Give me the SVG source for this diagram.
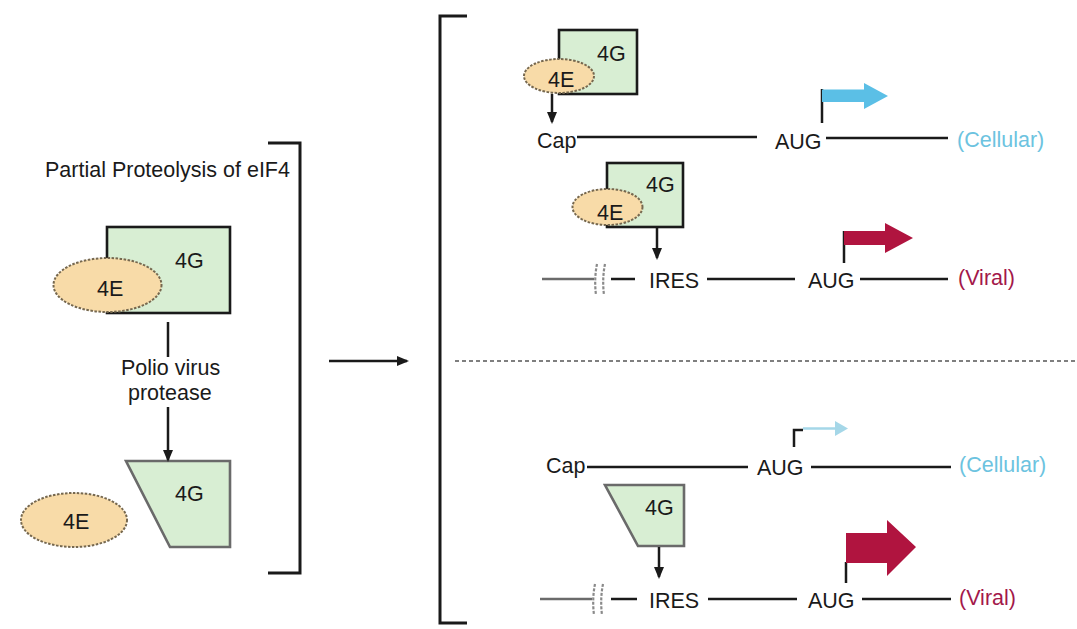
<svg xmlns="http://www.w3.org/2000/svg" width="1077" height="629" viewBox="0 0 1077 629">
<style>
text{font-family:"Liberation Sans",Arial,Helvetica,sans-serif;font-size:21.5px;fill:#1a1a1a}
.g4{fill:#d8eed3;stroke:#1a1a1a;stroke-width:2.6}
.g4c{fill:#d8eed3;stroke:#6a6a6a;stroke-width:2.6}
.e4{fill:#f8dba8;stroke:#76684f;stroke-width:2;stroke-dasharray:2.5 1.5}
.ln{stroke:#1a1a1a;stroke-width:2.5;fill:none}
.gl{stroke:#6b6b6b;stroke-width:2.5;fill:none}
.brk{stroke:#8a8a8a;stroke-width:2.2;fill:none;stroke-dasharray:3 1.5}
.br{stroke:#1a1a1a;stroke-width:3;fill:none}
.cy{fill:#5bbfe6}
.rd{fill:#b0143f}
.cell{fill:#6cc3e0}
.vir{fill:#a3184a}
</style>
<defs>
<marker id="ah" markerUnits="userSpaceOnUse" markerWidth="12" markerHeight="16" refX="10" refY="5" orient="auto">
<path d="M0,0 L12,5 L0,10 Z" fill="#1a1a1a"/>
</marker>
</defs>

<g id="brackets">
<path class="br" d="M268,143 H300 V573 H268"/>
<path class="br" d="M467,16 H440 V623 H467"/>
</g>

<g id="title"><text x="45" y="177">Partial Proteolysis of eIF4</text></g>

<g id="complex-intact">
<rect class="g4" x="107" y="227" width="123" height="86"/>
<ellipse class="e4" cx="107.5" cy="285" rx="54" ry="27"/>
<text x="175" y="268">4G</text>
<text x="97" y="296">4E</text>
</g>

<g id="protease-label">
<text x="121" y="375">Polio virus</text>
<text x="128" y="400">protease</text>
</g>

<g id="cleaved-4G">
<path class="g4c" d="M126,461 H230 V547 H170 Z"/>
<text x="175" y="501">4G</text>
</g>
<g id="free-4E">
<ellipse class="e4" cx="74" cy="520" rx="53" ry="27"/>
<text x="63" y="529">4E</text>
</g>

<g id="complex-top1">
<rect class="g4" x="559" y="30" width="78" height="64"/>
<ellipse class="e4" cx="559" cy="76" rx="35" ry="17"/>
<text x="597" y="61">4G</text>
<text x="548" y="87">4E</text>
</g>

<g id="complex-top2">
<rect class="g4" x="607" y="163" width="76" height="64"/>
<ellipse class="e4" cx="607.5" cy="207" rx="35" ry="18"/>
<text x="646" y="192">4G</text>
<text x="597" y="220">4E</text>
</g>

<g id="cleaved-4G-right">
<path class="g4c" d="M605,485 H684 V546 H638 Z"/>
<text x="645" y="515">4G</text>
</g>

<g id="mrna-cellular-top">
<text x="537" y="148">Cap</text>
<text x="775" y="149">AUG</text>
<text class="cell" x="957" y="147">(Cellular)</text>
</g>
<g id="mrna-viral-top">
<text x="649" y="288">IRES</text>
<text x="808" y="288">AUG</text>
<text class="vir" x="958" y="285">(Viral)</text>
</g>
<g id="mrna-cellular-bottom">
<text x="546" y="473">Cap</text>
<text x="757" y="475">AUG</text>
<text class="cell" x="959" y="472">(Cellular)</text>
</g>
<g id="mrna-viral-bottom">
<text x="649" y="608">IRES</text>
<text x="808" y="608">AUG</text>
<text class="vir" x="959" y="605">(Viral)</text>
</g>

<g id="connectors">
<line class="ln" x1="168" y1="322" x2="168" y2="357"/>
<line class="ln" x1="168" y1="407" x2="168" y2="460" marker-end="url(#ah)"/>
<line class="ln" x1="329" y1="361" x2="407" y2="361" marker-end="url(#ah)"/>
<line class="ln" x1="552" y1="94" x2="552" y2="122" marker-end="url(#ah)"/>
<line class="ln" x1="657" y1="227" x2="657" y2="258" marker-end="url(#ah)"/>
<line class="ln" x1="659" y1="547" x2="659" y2="577" marker-end="url(#ah)"/>

<line x1="455" y1="361" x2="1077" y2="361" stroke="#555" stroke-width="1.5" stroke-dasharray="4 3"/>

<!-- top cellular -->
<line class="ln" x1="577" y1="137" x2="757" y2="137"/>
<line class="ln" x1="826" y1="138" x2="948" y2="138"/>
<line class="ln" x1="822" y1="123" x2="822" y2="89"/>
<path class="cy" d="M822,89.5 H864 V83 L888,96 L864,109 V102 H822 Z"/>

<!-- top viral -->
<line class="gl" x1="542" y1="279" x2="594" y2="279"/>
<path class="brk" d="M597,264 Q594,279 596,295 M605,264 Q602,279 604,295"/>
<line class="ln" x1="611" y1="279" x2="635" y2="279"/>
<line class="ln" x1="707" y1="279" x2="795" y2="279"/>
<line class="ln" x1="860" y1="279" x2="948" y2="279"/>
<line class="ln" x1="844" y1="263" x2="844" y2="231"/>
<path class="rd" d="M844,231 H885 V223 L913,238 L885,253 V245 H844 Z"/>

<!-- bottom cellular -->
<line class="ln" x1="587" y1="467" x2="748" y2="467"/>
<line class="ln" x1="811" y1="467" x2="951" y2="467"/>
<path class="ln" d="M794,447 V430 H803"/>
<line x1="803" y1="428.5" x2="838" y2="428.5" stroke="#a5d7e8" stroke-width="2.5"/>
<path d="M835,421 L848,428.5 L835,436 Z" fill="#a5d7e8"/>

<!-- bottom viral -->
<line class="gl" x1="540" y1="599" x2="592" y2="599"/>
<path class="brk" d="M595,584 Q592,599 594,615 M603,584 Q600,599 602,615"/>
<line class="ln" x1="611" y1="599" x2="637" y2="599"/>
<line class="ln" x1="708" y1="599" x2="797" y2="599"/>
<line class="ln" x1="862" y1="599" x2="951" y2="599"/>
<line class="ln" x1="846" y1="583" x2="846" y2="562"/>
<path class="rd" d="M846,533 H887 V520 L916,547 L887,576 V563 H846 Z"/>
</g>
</svg>
